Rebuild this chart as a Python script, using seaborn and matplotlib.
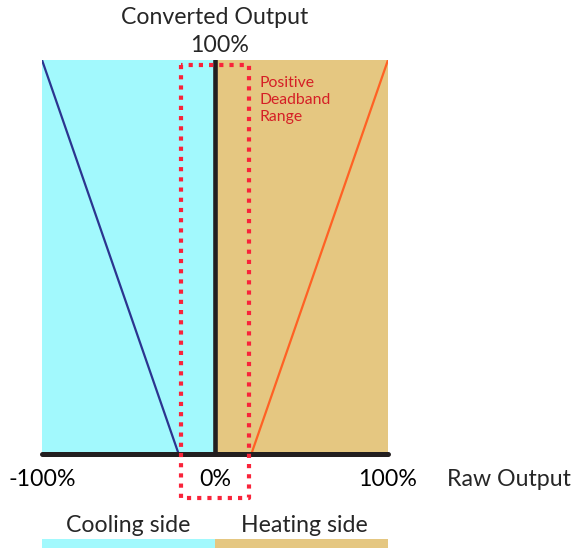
import matplotlib
matplotlib.use("Agg")
import matplotlib.pyplot as plt
import seaborn as sns
from matplotlib.patches import Rectangle

# --- data ---
raw_ticks = [-100, 0, 100]
tick_labels = ["-100%", "0%", "100%"]
cooling_x = [-100, -21]
cooling_y = [100, 0]
heating_x = [21, 100]
heating_y = [0, 100]
deadband = [-19.5, 19.5]
cooling_region = [-100, 0]
heating_region = [0, 100]
region_names = ["Cooling side", "Heating side"]

CYAN = "#A2F9FD"
TAN = "#E5C781"
NAVY = "#2B3590"
ORANGE = "#FF6124"
RED = "#F9233A"
TEXT_RED = "#D51F26"

sns.set_style("white")
plt.rcParams["font.family"] = ["Lato", "DejaVu Sans"]

FS = 16.7
W, H = 572, 548
fig = plt.figure(figsize=(W / 100, H / 100), dpi=100)
ax = fig.add_axes([42 / W, 1 - 454 / H, 346 / W, 394 / H])

# shaded sides
ax.axvspan(*cooling_region, color=CYAN, lw=0, zorder=0)
ax.axvspan(*heating_region, color=TAN, lw=0, zorder=0)

sns.lineplot(x=cooling_x, y=cooling_y, color=NAVY, lw=1.6, ax=ax, zorder=3)
sns.lineplot(x=heating_x, y=heating_y, color=ORANGE, lw=1.6, ax=ax, zorder=3)

# axes lines
ax.axvline(0, color="#231F20", lw=3.3, zorder=4)
ax.axhline(0, color="#231F20", lw=3.6, zorder=4, clip_on=False)

ax.set_xlim(-100, 100)
ax.set_ylim(0, 100)
sns.despine(ax=ax, left=True, bottom=True)

# deadband box (extends below the axis)
box_bottom, box_top = -11.2, 98.7
ax.plot([deadband[0], deadband[0], deadband[1], deadband[1], deadband[0]],
        [box_top, box_bottom, box_bottom, box_top, box_top],
        color=RED, lw=3.0, ls=(0, (1, 1.45)), dash_capstyle="butt",
        clip_on=False, zorder=5)

ax.text(deadband[1] + 6.3, 96.0, "Positive\nDeadband\nRange", color=TEXT_RED,
        fontsize=11.3, va="top", ha="left", linespacing=1.28, zorder=6)

ax.set_xticks(raw_ticks)
ax.set_xticklabels(tick_labels)
ax.set_yticks([])
ax.tick_params(axis="x", length=0, pad=11, labelsize=FS, colors="black")

# side bars under the chart
ax.add_patch(Rectangle((cooling_region[0], -24.5), cooling_region[1] - cooling_region[0], 3,
                       color=CYAN, lw=0, clip_on=False))
ax.add_patch(Rectangle((heating_region[0], -24.5), heating_region[1] - heating_region[0], 3,
                       color=TAN, lw=0, clip_on=False))

fig.text(215 / W, 1 - 17 / H, "Converted Output", ha="center", va="center", fontsize=FS)
fig.text(220 / W, 1 - 46 / H, "100%", ha="center", va="center", fontsize=FS)
fig.text(447 / W, 1 - 480 / H, "Raw Output", ha="left", va="center", fontsize=FS)
fig.text(128 / W, 1 - 525 / H, region_names[0], ha="center", va="center", fontsize=FS)
fig.text(304 / W, 1 - 525 / H, region_names[1], ha="center", va="center", fontsize=FS)

fig.savefig("out.png", dpi=100)
